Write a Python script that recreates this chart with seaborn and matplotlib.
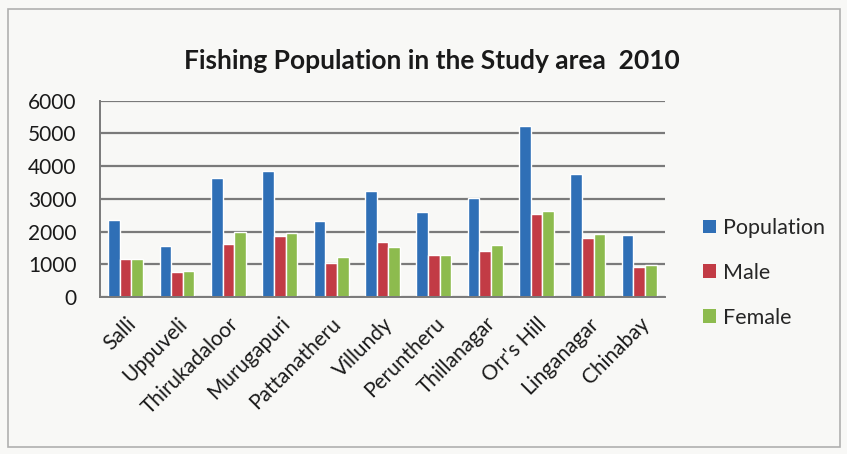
import matplotlib
matplotlib.use("Agg")
import matplotlib.pyplot as plt
import seaborn as sns
import pandas as pd
from matplotlib.patches import Rectangle, Patch

villages = ["Salli", "Uppuveli", "Thirukadaloor", "Murugapuri", "Pattanatheru",
            "Villundy", "Peruntheru", "Thillanagar", "Orr's Hill", "Linganagar", "Chinabay"]
population = [2350, 1560, 3650, 3860, 2330, 3250, 2600, 3020, 5220, 3760, 1890]
male = [1160, 750, 1620, 1870, 1050, 1680, 1270, 1390, 2530, 1790, 900]
female = [1170, 780, 1990, 1950, 1220, 1520, 1280, 1580, 2630, 1940, 970]
series_names = ["Population", "Male", "Female"]
y_ticks = [0, 1000, 2000, 3000, 4000, 5000, 6000]
title = "Fishing Population in the Study area  2010"

colors = ["#2F6FB6", "#C23B45", "#8DBB4E"]

df = pd.DataFrame({
    "village": villages * 3,
    "series": [series_names[0]] * len(villages) + [series_names[1]] * len(villages) + [series_names[2]] * len(villages),
    "value": population + male + female,
})

sns.set_theme(style="white")
plt.rcParams["font.family"] = ["Lato", "DejaVu Sans"]

bg = "#F8F8F6"
fig = plt.figure(figsize=(8.47, 4.54), dpi=100, facecolor=bg)
ax = fig.add_axes([0.118, 0.346, 0.667, 0.432])
ax.set_facecolor(bg)

sns.barplot(data=df, x="village", y="value", hue="series", hue_order=series_names,
            palette=colors, width=0.68, ax=ax, saturation=1, legend=False, gap=0)

ax.set_ylim(0, 6000)
ax.set_yticks(y_ticks)
ax.set_yticklabels([str(v) for v in y_ticks], fontsize=15)
ax.set_xlim(-0.5, len(villages) - 0.5)
ax.set_xticks(range(len(villages)))
ax.set_xticklabels(villages, rotation=45, ha="right", rotation_mode="anchor", fontsize=15)
ax.tick_params(axis="y", length=0, pad=17, colors="#1a1a1a")
ax.tick_params(axis="x", length=0, pad=12, colors="#1a1a1a")
ax.set_xlabel("")
ax.set_ylabel("")

ax.yaxis.grid(True, color="#7a7a7a", linewidth=1.6)
ax.set_axisbelow(True)
for side in ["top", "right"]:
    ax.spines[side].set_visible(False)
for side in ["left", "bottom"]:
    ax.spines[side].set_color("#7a7a7a")
    ax.spines[side].set_linewidth(1.4)

handles = [Patch(facecolor=c, edgecolor="none") for c in colors]
fig.legend(handles, series_names, loc="center left", bbox_to_anchor=(0.807, 0.399),
           frameon=False, fontsize=15.5, handlelength=0.6, handleheight=0.6,
           handletextpad=0.35, labelspacing=1.15)

fig.text(0.51, 0.865, title, ha="center", va="center", fontsize=19, fontweight="bold",
         color="#1a1a1a")

fig.patches.append(Rectangle((0.01, 0.015), 0.982, 0.965, transform=fig.transFigure,
                             fill=False, edgecolor="#b0b0b0", linewidth=1.2))

fig.savefig("out.png", dpi=100, facecolor=bg)
